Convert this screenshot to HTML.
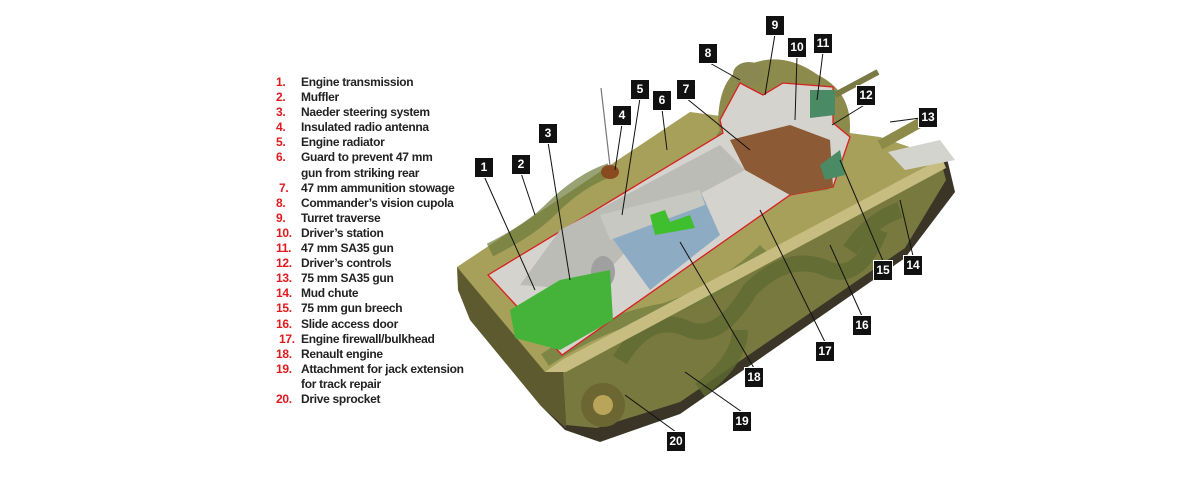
<!DOCTYPE html>
<html><head><meta charset="utf-8"><style>
html,body{margin:0;padding:0;background:#fff;}
body{width:1200px;height:480px;position:relative;overflow:hidden;font-family:"Liberation Sans",sans-serif;}
.leg{position:absolute;left:276px;top:75px;font-size:12px;font-weight:bold;line-height:15.1px;color:#222;letter-spacing:-0.3px;}
.leg div{position:relative;padding-left:25px;white-space:nowrap;}
.leg span{position:absolute;left:0;color:#e0191e;}
.b{position:absolute;width:18px;height:19px;background:#111;color:#fff;font-size:12px;font-weight:bold;text-align:center;line-height:19px;box-shadow:0 0 0 1px #fff;}
svg{position:absolute;left:0;top:0;}
</style></head><body>
<div class="leg">
<div><span>1.</span>Engine transmission</div>
<div><span>2.</span>Muffler</div>
<div><span>3.</span>Naeder steering system</div>
<div><span>4.</span>Insulated radio antenna</div>
<div><span>5.</span>Engine radiator</div>
<div><span>6.</span>Guard to prevent 47 mm<br>gun from striking rear</div>
<div><span>&nbsp;7.</span>47 mm ammunition stowage</div>
<div><span>8.</span>Commander’s vision cupola</div>
<div><span>9.</span>Turret traverse</div>
<div><span>10.</span>Driver’s station</div>
<div><span>11.</span>47 mm SA35 gun</div>
<div><span>12.</span>Driver’s controls</div>
<div><span>13.</span>75 mm SA35 gun</div>
<div><span>14.</span>Mud chute</div>
<div><span>15.</span>75 mm gun breech</div>
<div><span>16.</span>Slide access door</div>
<div><span>&nbsp;17.</span>Engine firewall/bulkhead</div>
<div><span>18.</span>Renault engine</div>
<div><span>19.</span>Attachment for jack extension<br>for track repair</div>
<div><span>20.</span>Drive sprocket</div>
</div>
<svg width="1200" height="480">
<!-- track/dark base -->
<polygon points="540,405 565,430 600,442 680,414 905,258 955,192 945,150 560,360" fill="#3a3526"/>
<!-- rear face -->
<polygon points="457,267 562,360 566,428 540,405 470,320 458,290" fill="#5e5a30"/>
<!-- side face -->
<polygon points="562,358 940,158 946,180 905,248 680,402 597,428 566,425" fill="#78793f"/>
<path d="M620,360 q30,-50 70,-30 q30,10 60,-40 q40,-40 80,-20 q30,10 50,-40 M700,390 q40,-30 40,-60 M850,250 q20,-30 50,-40" stroke="#5f6a32" stroke-width="16" fill="none" opacity=".8"/>
<circle cx="603" cy="405" r="22" fill="#6b6632"/>
<circle cx="603" cy="405" r="10" fill="#b8a55a"/>
<!-- top deck -->
<polygon points="457,267 690,112 880,137 942,158 562,362 545,372" fill="#a6a05a"/>
<path d="M490,250 q40,-20 60,-40 q30,-30 60,-40 M545,360 q60,-40 120,-50 q60,-20 100,-60 M720,130 q30,20 60,10" stroke="#6c7a3a" stroke-width="14" fill="none" opacity=".7"/>
<polygon points="545,372 562,360 942,158 946,168 566,372" fill="#c8bd80"/>
<!-- turret dome -->
<path d="M718,125 q0,-50 30,-60 q35,-15 70,10 q40,20 30,70 l-20,45 -80,10 z" fill="#8d8b4c"/>
<ellipse cx="749" cy="74" rx="16" ry="12" fill="#8a8850"/>
<line x1="835" y1="95" x2="878" y2="72" stroke="#7b7a44" stroke-width="6"/>
<line x1="880" y1="145" x2="925" y2="120" stroke="#8e8b4a" stroke-width="10"/>
<polygon points="888,152 940,140 955,160 905,170" fill="#d4d4ce"/>
<!-- interior -->
<polygon points="488,275 723,133 720,120 740,83 763,95 783,83 833,87 833,123 850,137 833,187 790,195 562,355" fill="#d4d3ce" stroke="#d82020" stroke-width="1.3"/>
<polygon points="730,140 790,125 830,140 833,187 790,195 745,170" fill="#8c5a34"/>
<polygon points="560,230 720,145 745,170 660,215 590,290 520,285" fill="#bcbcb6"/>
<polygon points="610,235 700,190 720,235 650,290" fill="#8eabc4"/>
<polygon points="600,215 700,190 705,205 610,240" fill="#c8c8c2"/>
<polygon points="650,215 665,210 670,222 690,215 695,228 655,235" fill="#3fbf2e"/>
<ellipse cx="603" cy="272" rx="12" ry="16" fill="#a0a0a0"/>
<polygon points="510,310 560,280 610,270 613,320 560,350 515,338" fill="#45b33a"/>
<polygon points="810,90 835,90 835,115 810,118" fill="#4a8a64"/>
<polygon points="820,165 840,150 845,175 825,180" fill="#4a8a64"/>
<ellipse cx="610" cy="172" rx="9" ry="7" fill="#8a4a20"/>
<line x1="610" y1="166" x2="601" y2="88" stroke="#777" stroke-width="1.2"/>
<!-- leader lines -->
<g stroke="#111" stroke-width="1">
<line x1="484" y1="176" x2="535" y2="290"/><line x1="521" y1="173" x2="535" y2="215"/>
<line x1="548" y1="142" x2="570" y2="280"/><line x1="622" y1="124" x2="615" y2="170"/>
<line x1="640" y1="98" x2="622" y2="215"/><line x1="662" y1="109" x2="667" y2="150"/>
<line x1="686" y1="98" x2="750" y2="150"/><line x1="708" y1="62" x2="740" y2="80"/>
<line x1="775" y1="34" x2="765" y2="95"/><line x1="797" y1="56" x2="795" y2="120"/>
<line x1="823" y1="52" x2="817" y2="100"/><line x1="866" y1="104" x2="832" y2="125"/>
<line x1="928" y1="117" x2="890" y2="122"/><line x1="913" y1="256" x2="900" y2="200"/>
<line x1="883" y1="261" x2="840" y2="160"/><line x1="862" y1="316" x2="830" y2="245"/>
<line x1="825" y1="342" x2="760" y2="210"/><line x1="754" y1="368" x2="680" y2="242"/>
<line x1="742" y1="412" x2="685" y2="372"/><line x1="676" y1="432" x2="625" y2="395"/>
</g>
</svg>
<div class="b" style="left:475px;top:158px">1</div>
<div class="b" style="left:512px;top:155px">2</div>
<div class="b" style="left:539px;top:124px">3</div>
<div class="b" style="left:613px;top:106px">4</div>
<div class="b" style="left:631px;top:80px">5</div>
<div class="b" style="left:653px;top:91px">6</div>
<div class="b" style="left:677px;top:80px">7</div>
<div class="b" style="left:699px;top:44px">8</div>
<div class="b" style="left:766px;top:16px">9</div>
<div class="b" style="left:788px;top:38px">10</div>
<div class="b" style="left:814px;top:34px">11</div>
<div class="b" style="left:857px;top:86px">12</div>
<div class="b" style="left:919px;top:108px">13</div>
<div class="b" style="left:904px;top:256px">14</div>
<div class="b" style="left:874px;top:261px">15</div>
<div class="b" style="left:853px;top:316px">16</div>
<div class="b" style="left:816px;top:342px">17</div>
<div class="b" style="left:745px;top:368px">18</div>
<div class="b" style="left:733px;top:412px">19</div>
<div class="b" style="left:667px;top:432px">20</div>
</body></html>
